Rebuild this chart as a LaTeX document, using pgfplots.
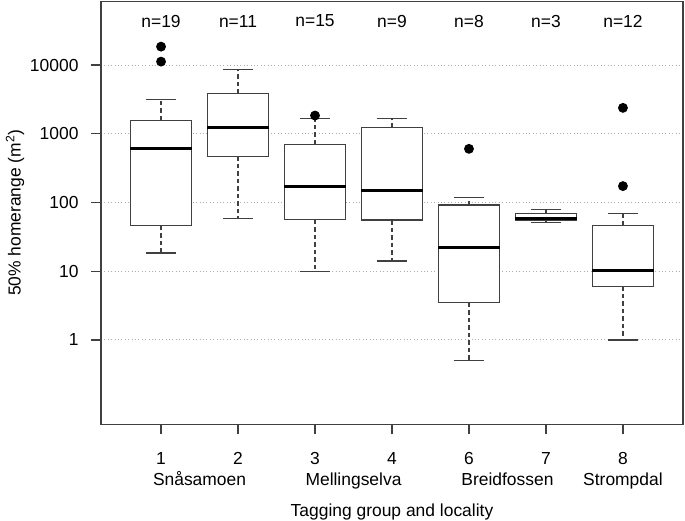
\documentclass[border=0pt]{standalone}
\usepackage{pgfplots}
\pgfplotsset{compat=1.18}
\usepgfplotslibrary{statistics}
\usepackage{fontspec}
\setmainfont{Liberation Sans}
\definecolor{frame}{HTML}{404040}
\pgfplotsset{
  rbox/.style={
    draw=frame, line width=1.2bp, fill=white, solid,
    mark=*, mark size=4.3bp, mark options={solid, fill=black, draw=black},
    boxplot/draw direction=y,
    boxplot/box extend=0.8,
    boxplot/whisker extend=0.4,
    boxplot/every median/.style={line width=3bp, draw=black},
    boxplot/draw/lower whisker/.code={%
      \draw[dash pattern=on 4.5bp off 3bp]
        (boxplot box cs:\pgfplotsboxplotvalue{lower quartile},0.5) --
        (boxplot box cs:\pgfplotsboxplotvalue{lower whisker},0.5);
      \draw (boxplot whisker cs:\pgfplotsboxplotvalue{lower whisker},0) --
        (boxplot whisker cs:\pgfplotsboxplotvalue{lower whisker},1);
    },
    boxplot/draw/upper whisker/.code={%
      \draw[dash pattern=on 4.5bp off 3bp]
        (boxplot box cs:\pgfplotsboxplotvalue{upper quartile},0.5) --
        (boxplot box cs:\pgfplotsboxplotvalue{upper whisker},0.5);
      \draw (boxplot whisker cs:\pgfplotsboxplotvalue{upper whisker},0) --
        (boxplot whisker cs:\pgfplotsboxplotvalue{upper whisker},1);
    },
  }
}
\begin{document}
\begin{tikzpicture}[font=\fontsize{17.5}{20}\selectfont]
\begin{axis}[
  scale only axis, width=582bp, height=423bp,
  xmin=0.22, xmax=7.78,
  ymode=log, ymin=0.05916, ymax=84530,
  clip=false,
  axis line style={frame, line width=1.2bp},
  every tick/.style={frame, line width=1.2bp},
  tick align=outside, major tick length=10bp,
  tick pos=left,
  xtick={1,2,3,4,5,6,7}, xticklabels={1,2,3,4,6,7,8},
  ytick={1,10,100,1000,10000}, yticklabels={1,10,100,1000,10000},
  yminorticks=false,
  xticklabel style={anchor=base, yshift=-30.3bp},
  yticklabel style={anchor=east, xshift=-9bp},
  extra x ticks={1.5,3.5,5.5,7},
  extra x tick labels={Snåsamoen,Mellingselva,Breidfossen,Strompdal},
  extra x tick style={major tick length=0pt, xticklabel style={yshift=-30.9bp}},
  ymajorgrids,
  grid style={gray!65, line width=0.9bp, dash pattern=on 1bp off 2.4bp},
  ylabel={50\% homerange (m\textsuperscript{2})},
  xlabel={Tagging group and locality},
  every axis y label/.style={at={(axis description cs:-0.1478,0.5)}, rotate=90, anchor=center},
  every axis x label/.style={at={(axis description cs:0.5,-0.2073)}, anchor=center},
]
% group 1 (Snasamoen)
\addplot[rbox, boxplot prepared={draw position=1,
  lower whisker=18.4, lower quartile=45.8, median=617,
  upper quartile=1577, upper whisker=3140}]
  coordinates {(0,18500) (0,11200)};
% group 2
\addplot[rbox, boxplot prepared={draw position=2,
  lower whisker=58, lower quartile=467, median=1230,
  upper quartile=3800, upper whisker=8690}]
  coordinates {};
% group 3 (Mellingselva)
\addplot[rbox, boxplot prepared={draw position=3,
  lower whisker=9.9, lower quartile=56, median=171,
  upper quartile=706, upper whisker=1686}]
  coordinates {(0,1840)};
% group 4
\addplot[rbox, boxplot prepared={draw position=4,
  lower whisker=14.1, lower quartile=55.5, median=148,
  upper quartile=1218, upper whisker=1647}]
  coordinates {};
% group 6 (Breidfossen)
\addplot[rbox, boxplot prepared={draw position=5,
  lower whisker=0.5, lower quartile=3.49, median=22,
  upper quartile=91.7, upper whisker=117}]
  coordinates {(0,603)};
% group 7
\addplot[rbox, boxplot prepared={draw position=6,
  lower whisker=51.2, lower quartile=54.7, median=58.5,
  upper quartile=69.2, upper whisker=78.3}]
  coordinates {};
% group 8 (Strompdal)
\addplot[rbox, boxplot prepared={draw position=7,
  lower whisker=1, lower quartile=6.0, median=10.2,
  upper quartile=46.3, upper whisker=68.5}]
  coordinates {(0,2380) (0,173)};
% sample sizes
\node at (axis cs:1,43600) {n=19};
\node at (axis cs:2,43600) {n=11};
\node at (axis cs:3,43600) {n=15};
\node at (axis cs:4,43600) {n=9};
\node at (axis cs:5,43600) {n=8};
\node at (axis cs:6,43600) {n=3};
\node at (axis cs:7,43600) {n=12};
\end{axis}
\pgfresetboundingbox
\path ([xshift=-101bp,yshift=-96.7bp]current axis.south west) rectangle ([xshift=2bp,yshift=1.3bp]current axis.north east);
\end{tikzpicture}
\end{document}
